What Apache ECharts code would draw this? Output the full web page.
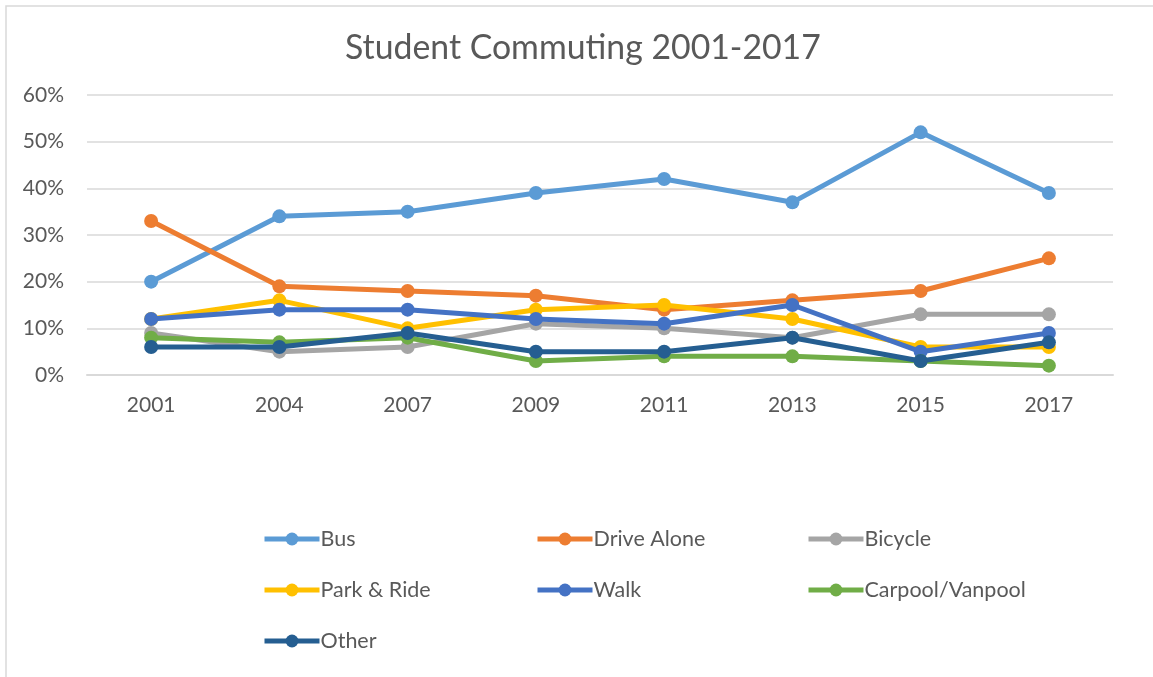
<!DOCTYPE html>
<html>
<head>
<meta charset="utf-8">
<script src="https://cdn.jsdelivr.net/npm/echarts@6/dist/echarts.min.js"></script>
<style>
html,body{margin:0;padding:0;background:#fff;}
#chart{width:1153px;height:677px;}
</style>
</head>
<body>
<div id="chart"></div>
<script>
const years = ['2001','2004','2007','2009','2011','2013','2015','2017'];
const bus = [20,34,35,39,42,37,52,39];
const driveAlone = [33,19,18,17,14,16,18,25];
const bicycle = [9,5,6,11,10,8,13,13];
const parkRide = [12,16,10,14,15,12,6,6];
const walk = [12,14,14,12,11,15,5,9];
const carpool = [8,7,8,3,4,4,3,2];
const other = [6,6,9,5,5,8,3,7];

const seriesNames = ['Bus','Drive Alone','Bicycle','Park & Ride','Walk','Carpool/Vanpool','Other'];
const seriesData = [bus, driveAlone, bicycle, parkRide, walk, carpool, other];
const colors = ['#5B9BD5','#ED7D31','#A5A5A5','#FFC000','#4472C4','#70AD47','#255E91'];

const FONT = 'Lato, "Open Sans", sans-serif';
const TXT = '#595959';

const chart = echarts.init(document.getElementById('chart'), null, {renderer:'canvas'});

function legendCol(names, left){
  return {
    orient:'vertical', left:left, top:528, padding:0,
    itemWidth:55, itemHeight:16, itemGap:29,
    data:names,
    lineStyle:{width:5},
    textStyle:{color:TXT, fontSize:21.5, fontFamily:FONT, padding:[0,0,0,-4]},
    selectedMode:false
  };
}

chart.setOption({
  animation:false,
  color:colors,
  title:{
    text:'Student Commuting 2001-2017',
    left:345, top:31, padding:0,
    textStyle:{color:TXT, fontSize:33.8, fontWeight:'normal', fontFamily:FONT}
  },
  graphic:[{
    type:'rect', silent:true,
    shape:{x:6, y:6, width:1200, height:720},
    style:{fill:null, stroke:'#D9D9D9', lineWidth:1.5}
  }],
  legend:[
    legendCol(['Bus','Park & Ride','Other'], 262),
    legendCol(['Drive Alone','Walk'], 535),
    legendCol(['Bicycle','Carpool/Vanpool'], 806)
  ],
  grid:{left:87, right:40, top:95, bottom:302, containLabel:false},
  xAxis:{
    type:'category', data:years, boundaryGap:true,
    axisLine:{show:true, lineStyle:{color:'#D9D9D9', width:2}},
    axisTick:{show:false},
    axisLabel:{color:TXT, fontSize:21, fontFamily:FONT, margin:20}
  },
  yAxis:{
    type:'value', min:0, max:60, interval:10,
    axisLine:{show:false}, axisTick:{show:false},
    axisLabel:{color:TXT, fontSize:21, fontFamily:FONT, margin:23, formatter:'{value}%'},
    splitLine:{lineStyle:{color:'#D9D9D9', width:1.5}}
  },
  series: seriesNames.map((n,i)=>({
    name:n, type:'line', data:seriesData[i],
    symbol:'circle', symbolSize:14,
    lineStyle:{width:5, color:colors[i]},
    itemStyle:{color:colors[i]},
    z:2+i
  }))
});
</script>
</body>
</html>
